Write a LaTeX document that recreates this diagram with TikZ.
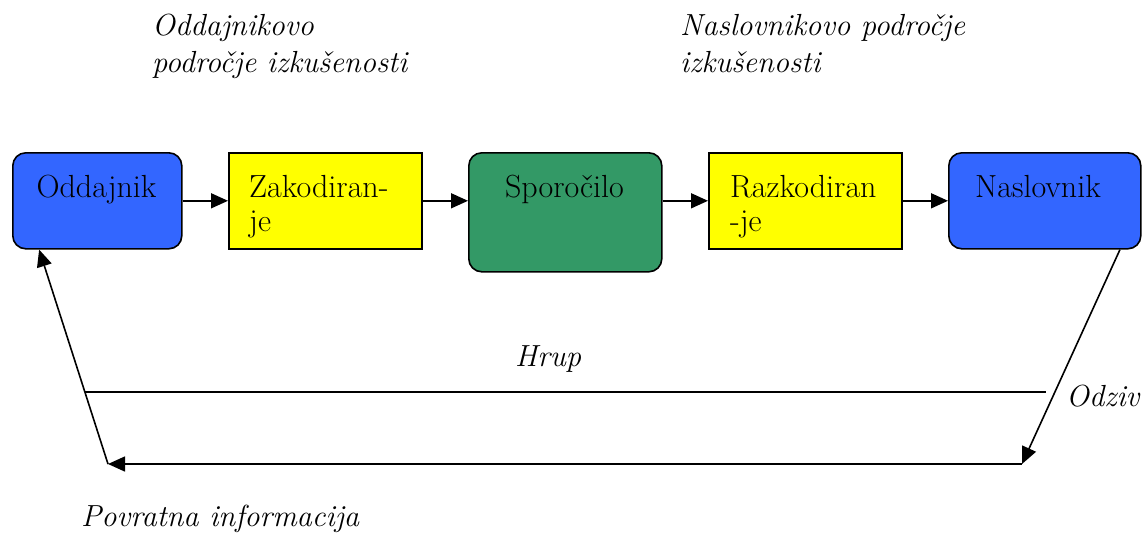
\documentclass[tikz,border=0pt]{standalone}
\usepackage{fontspec}
\usetikzlibrary{arrows.meta}
\definecolor{partyblue}{HTML}{3366FF}
\definecolor{codeyellow}{HTML}{FFFF00}
\definecolor{msggreen}{HTML}{339966}
% caption fonts
\newcommand{\capfont}{\rmfamily\fontsize{32}{36}\selectfont}
\newcommand{\labfont}{\rmfamily\itshape\fontsize{30.5}{36}\selectfont}
\begin{document}
\begin{tikzpicture}[x=1pt,y=-1pt,
  font=\capfont,
  box/.style={draw=black, line width=1.6pt, inner sep=0pt, anchor=north west,
              minimum width=#1},
  box/.default=193pt,
  rbox/.style={box=#1, rounded corners=13pt},
  rbox/.default=193pt,
  txt/.style={inner sep=0pt, anchor=base west},
  ctxt/.style={inner sep=0pt, anchor=base},
  itxt/.style={inner sep=0pt, anchor=base west, font=\labfont},
  wire/.style={line width=1.6pt},
  arr/.style={wire, -{Triangle[length=17pt,width=15pt]}}]

\useasboundingbox (0,0) rectangle (1142,536);

% headings over the two fields of experience
\node[itxt] (sendA) at (152,35) {Oddajnikovo};
\node[itxt] (sendB) at (152,72) {področje izkušenosti};
\node[itxt] (recvA) at (680,35) {Naslovnikovo področje};
\node[itxt] (recvB) at (680,72) {izkušenosti};

% the chain of stages
\node[rbox=169pt, fill=partyblue, minimum height=96pt] (odd) at (12,152) {};
\node[box, fill=codeyellow, minimum height=96pt] (zak) at (228,152) {};
\node[rbox, fill=msggreen, minimum height=119pt] (spo) at (468,152) {};
\node[box, fill=codeyellow, minimum height=96pt] (raz) at (708,152) {};
\node[rbox=192pt, fill=partyblue, minimum height=96pt] (nas) at (948,152) {};

% box captions
\node[ctxt] (oddT) at (96.5,197) {Oddajnik};
\node[txt] (zakA) at (249,197) {Zakodiran-};
\node[txt] (zakB) at (249,231) {je};
\node[ctxt] (spoT) at (564.5,197) {Sporočilo};
\node[txt] (razA) at (730,197) {Razkodiran};
\node[txt] (razB) at (730,231) {-je};
\node[ctxt] (nasT) at (1038,197) {Naslovnik};

% forward flow
\draw[arr] (odd.east) -- (zak.west);
\draw[arr] (zak.east) -- (zak.east -| spo.west);
\draw[arr] (spo.east |- raz.west) -- (raz.west);
\draw[arr] (raz.east) -- (nas.west);

% noise line
\coordinate (noiseL) at (85,392);
\coordinate (noiseR) at (1046,392);
\draw[wire] (noiseL) -- (noiseR);
\node[itxt] (hrup) at (515,366) {Hrup};

% response and feedback loop
\coordinate (fbR) at (1022,464);
\coordinate (fbL) at (108,464);
\draw[arr] (nas.-33.3) -- (fbR);
\draw[arr] (fbR) -- (fbL);
\draw[arr] (fbL) -- (odd.-140.5);
\node[itxt] (odziv) at (1066,406) {Odziv};
\node[itxt] (povr) at (81,526) {Povratna informacija};

\end{tikzpicture}
\end{document}
